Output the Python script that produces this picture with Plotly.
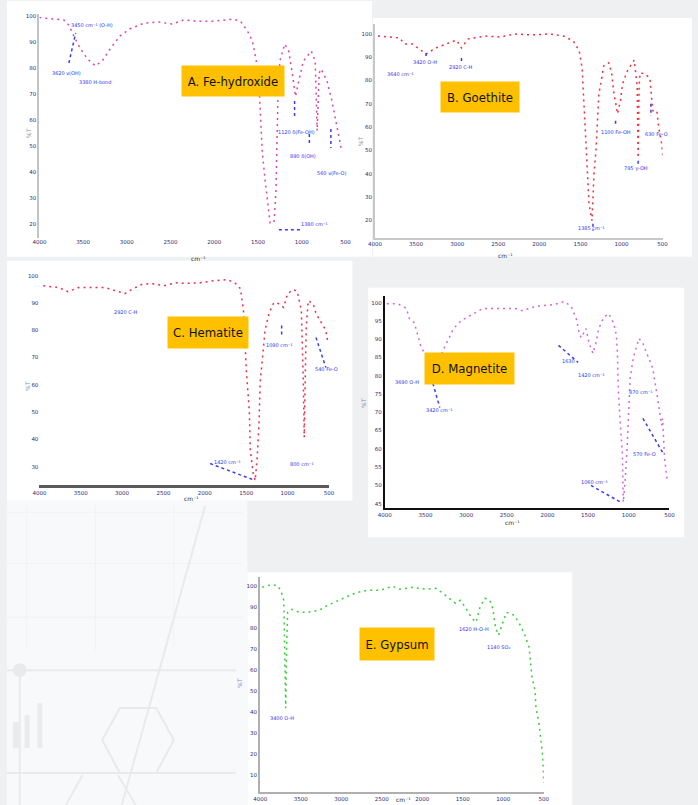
import plotly.graph_objects as go

W, H = 698, 805

# ---- FTIR spectra: wavenumber (cm-1) and transmittance (%T) ----
fe_wn = [4000, 3966, 3809, 3720, 3663, 3607, 3529, 3450, 3360, 3282, 3192, 3080, 2968, 2800,
         2631, 2485, 2350, 2182, 2014, 1790, 1700, 1621, 1565, 1498, 1475, 1453, 1419, 1386,
         1363, 1318, 1296, 1274, 1251, 1195, 1150, 1105, 1072, 1038, 982, 892, 847, 825, 802,
         780, 712, 656, 600, 544]
fe_t = [99.5, 99.2, 98.8, 98.5, 96.5, 92.3, 87.3, 83.5, 80.8, 82.7, 87.3, 92.3, 95.0, 97.3,
        97.7, 96.9, 98.5, 98.0, 98.0, 98.8, 98.0, 94.2, 90.4, 78.8, 63.5, 48.0, 36.5, 27.0,
        20.4, 20.4, 32.7, 67.3, 82.7, 89.2, 86.5, 77.0, 69.0, 74.6, 82.7, 86.5, 82.7, 55.8, 78.0,
        79.6, 75.0, 67.3, 57.7, 48.0]

goe_wn = [3964, 3701, 3641, 3546, 3379, 3259, 3104, 3008, 2948, 2865, 2662, 2470, 2303, 2112,
          1873, 1706, 1586, 1514, 1479, 1455, 1431, 1407, 1395, 1359, 1335, 1311, 1287, 1275,
          1240, 1216, 1156, 1120, 1096, 1048, 1012, 988, 929, 845, 809, 797, 785, 773, 714,
          654, 630, 618, 570, 546, 510, 498]
goe_t = [99.1, 98.3, 95.7, 95.7, 91.4, 94.0, 96.1, 97.4, 94.0, 97.9, 99.1, 98.7, 100.0, 99.6,
         100.0, 99.1, 97.0, 92.7, 85.4, 67.0, 49.8, 35.6, 27.0, 19.8, 39.9, 49.8, 64.0, 74.3,
         81.1, 86.3, 87.6, 83.3, 75.5, 65.7, 71.3, 78.5, 84.1, 88.8, 77.7, 46.8, 77.7, 83.3, 82.8,
         81.1, 71.3, 67.0, 67.0, 59.7, 52.8, 47.7]

hem_wn = [3953, 3834, 3763, 3656, 3526, 3205, 2968, 2885, 2767, 2648, 2494, 2340, 2233, 2055,
          1865, 1723, 1628, 1569, 1533, 1521, 1498, 1462, 1450, 1415, 1391, 1367, 1343, 1332,
          1308, 1272, 1225, 1165, 1106, 1047, 999, 928, 881, 833, 810, 798, 786, 774, 750, 691,
          656, 596, 537, 513]
hem_t = [96.3, 96.0, 95.6, 94.1, 95.6, 95.6, 93.4, 94.9, 96.7, 97.1, 96.3, 97.4, 97.1, 97.4,
         98.2, 98.5, 97.1, 95.2, 87.2, 79.9, 65.2, 50.5, 35.9, 27.5, 24.9, 33.3, 46.9, 60.4,
         68.9, 79.9, 86.1, 90.1, 89.7, 88.3, 93.4, 94.9, 94.1, 87.2, 62.6, 40.7, 62.6, 81.0, 90.8,
         89.7, 86.1, 82.8, 79.9, 75.5]

mag_wn = [3976, 3843, 3734, 3698, 3638, 3602, 3553, 3457, 3421, 3372, 3312, 3240, 3155, 3059,
          2950, 2793, 2636, 2395, 2310, 2226, 2153, 2033, 1912, 1791, 1707, 1646, 1610, 1586,
          1526, 1490, 1441, 1405, 1369, 1308, 1248, 1188, 1152, 1140, 1127, 1103, 1079, 1067,
          1043, 1019, 983, 946, 898, 874, 826, 765, 705, 645, 596, 584, 560, 524]
mag_t = [99.7, 99.7, 98.4, 95.6, 94.5, 91.8, 87.7, 84.2, 80.6, 82.8, 85.5, 89.1, 92.9, 95.1,
         96.4, 98.4, 98.4, 98.4, 97.8, 98.4, 98.9, 99.2, 99.5, 100.3, 98.9, 95.6, 91.8, 90.4,
         92.9, 89.1, 86.1, 88.8, 92.9, 95.9, 97.0, 94.5, 91.0, 86.3, 75.4, 66.4, 59.0, 45.4,
         51.9, 60.9, 79.2, 84.7, 88.8, 90.2, 88.8, 85.5, 82.0, 73.8, 66.4, 68.3, 57.4, 50.8]

gyp_wn = [3976, 3891, 3794, 3746, 3709, 3697, 3685, 3673, 3661, 3612, 3516, 3407, 3273, 3164,
          3043, 2922, 2801, 2680, 2523, 2365, 2280, 2123, 1953, 1832, 1760, 1675, 1590, 1530,
          1469, 1396, 1336, 1287, 1227, 1166, 1130, 1094, 1057, 1009, 960, 864, 803, 742, 682,
          646, 609, 597, 561, 536, 512, 500]
gyp_t = [99.5, 100.5, 100.5, 98.1, 93.3, 74.3, 41.9, 74.3, 87.6, 89.0, 87.6, 87.6, 88.6, 91.0,
         93.3, 95.2, 97.1, 98.1, 98.1, 100.0, 98.6, 99.5, 98.6, 99.0, 97.1, 94.3, 91.9, 93.3,
         90.0, 85.2, 82.9, 90.0, 94.3, 93.3, 89.5, 80.0, 76.7, 82.4, 87.6, 86.2, 82.4, 77.6, 71.0,
         56.7, 50.5, 42.4, 34.8, 26.7, 18.6, 6.2]

x_ticks = [4000, 3500, 3000, 2500, 2000, 1500, 1000, 500]

# peak labels: (text, wavenumber, %T)
fe_labels = [("3450 cm⁻¹ (O-H)", 3394, 96.5), ("3620 ν(OH)", 3686, 78.1),
             ("3380 H-bond", 3360, 74.6), ("1120 δ(Fe-OH)", 1060, 55.4),
             ("890 δ(OH)", 982, 46.2), ("560 ν(Fe-O)", 656, 39.6), ("1380 cm⁻¹", 858, 20.0)]
goe_labels = [("3640 cm⁻¹", 3689, 82.8), ("3420 O-H", 3391, 88.0), ("2920 C-H", 2948, 85.8),
              ("1385 cm⁻¹", 1371, 16.8), ("1100 Fe-OH", 1072, 58.0), ("795 γ-OH", 821, 42.1),
              ("630 Fe-O", 570, 57.1)]
hem_labels = [("2920 C-H", 2956, 86.8), ("1090 cm⁻¹", 1094, 74.7), ("540 Fe-O", 525, 65.9),
              ("1420 cm⁻¹", 1723, 31.5), ("800 cm⁻¹", 833, 30.8)]
mag_labels = [("3690 O-H", 3722, 78.4), ("3420 cm⁻¹", 3324, 70.5), ("1630", 1743, 83.9),
              ("1420 cm⁻¹", 1453, 80.3), ("870 cm⁻¹", 850, 75.4), ("570 Fe-O", 802, 58.7),
              ("1060 cm⁻¹", 1417, 50.8)]
gyp_labels = [("1620 H-O-H", 1360, 79.5), ("1140 SO₄", 1057, 71.0), ("3400 O-H", 3734, 37.1)]

# leader lines between labels and bands: (wn0, t0, wn1, t1)
fe_leads = [(3663, 81.9, 3585, 93.5), (1083, 67.3, 1083, 60.8), (668, 56.5, 668, 49.2),
            (914, 54.6, 914, 50.8), (1262, 17.7, 1004, 17.7)]
goe_leads = [(3379, 91.8, 3379, 89.3), (2948, 89.7, 2948, 87.6), (1072, 62.7, 1072, 60.5),
             (797, 45.5, 797, 43.4), (642, 70.0, 642, 64.8), (1347, 18.5, 1347, 15.5)]
hem_leads = [(1936, 31.1, 1391, 24.9), (656, 77.3, 537, 66.3), (1071, 81.7, 1071, 78.0)]
mag_leads = [(3409, 77.9, 3324, 71.3), (1864, 88.3, 1622, 83.6), (1465, 50.0, 1103, 45.4),
             (826, 68.3, 584, 59.0)]
gyp_leads = []

panels = [
    dict(name="A. Fe-hydroxide", wn=fe_wn, t=fe_t, color="#e0489c", box=(33, 345, 13, 237),
         yr=(14.6, 100.8), yt=list(range(20, 101, 10)), labels=fe_labels, leads=fe_leads,
         xline=False, yline=True, axcol="#c4c4c4", tag=(177, 64, 102, 30),
         xt=(185, 252), ytl=(17, 125)),
    dict(name="B. Goethite", wn=goe_wn, t=goe_t, color="#f0303c", box=(375, 668, 23, 237),
         yr=(12.5, 104.3), yt=list(range(20, 101, 10)), labels=goe_labels, leads=goe_leads,
         xline=True, yline=True, axcol="#c8c8c8", tag=(523, 80, 78, 30),
         xt=(518, 249), ytl=(361, 133)),
    dict(name="C. Hematite", wn=hem_wn, t=hem_t, color="#e8304c", box=(33, 328, 270, 485),
         yr=(23.1, 101.8), yt=list(range(30, 101, 10)), labels=hem_labels, leads=hem_leads,
         xline=True, yline=False, axcol="#5a5a5a", tag=(163, 332, 80, 31),
         xt=(178, 498), ytl=(15, 385)),
    dict(name="D. Magnetite", wn=mag_wn, t=mag_t, color="#d068dc", box=(385, 675, 295, 508),
         yr=(43.7, 101.9), yt=list(range(45, 101, 5)), labels=mag_labels, leads=mag_leads,
         xline=True, yline=True, axcol="#111111", tag=(518, 368, 89, 31),
         xt=(525, 522), ytl=(363, 402)),
    dict(name="E. Gypsum", wn=gyp_wn, t=gyp_t, color="#3ccc3c", box=(258, 547, 577, 792),
         yr=(1.9, 104.3), yt=list(range(0, 101, 10)), labels=gyp_labels, leads=gyp_leads,
         xline=True, yline=True, axcol="#b0b0b0", tag=(397, 661, 74, 32),
         xt=(404, 805), ytl=(237, 690)),
]


def fx(px):
    return px / W


def fy(py):
    return 1 - py / H


fig = go.Figure()
shapes = []
annotations = []

# ---- page background: panels and faint decorative graphics ----
deco = "#e9eaec"
shapes += [
    dict(type="rect", xref="paper", yref="paper", x0=fx(0), x1=fx(245), y0=fy(805), y1=fy(500),
         fillcolor="#f8f9fa", line_width=0, layer="below"),
]
for y in (512, 563, 617):
    shapes.append(dict(type="line", xref="paper", yref="paper", x0=fx(0), x1=fx(240),
                       y0=fy(y), y1=fy(y), line=dict(color="#f1f2f3", width=1), layer="below"))
for x in (20, 90, 170):
    shapes.append(dict(type="line", xref="paper", yref="paper", x0=fx(x), x1=fx(x),
                       y0=fy(505), y1=fy(650), line=dict(color="#f1f2f3", width=1), layer="below"))
for (x0, y0, x1, y1) in [(0, 670, 233, 670), (0, 773, 233, 773), (13, 670, 13, 805),
                         (202, 505, 117, 805), (77, 775, 60, 805), (113, 775, 131, 805)]:
    shapes.append(dict(type="line", xref="paper", yref="paper", x0=fx(x0), x1=fx(x1),
                       y0=fy(y0), y1=fy(y1), line=dict(color=deco, width=2), layer="below"))
hexpts = [(97, 740), (115, 708), (152, 708), (170, 740), (152, 773), (115, 773)]
path = "M " + " L ".join(f"{fx(a):.5f},{fy(b):.5f}" for a, b in hexpts) + " Z"
shapes.append(dict(type="path", xref="paper", yref="paper", path=path,
                   line=dict(color=deco, width=2), layer="below"))
shapes.append(dict(type="circle", xref="paper", yref="paper", x0=fx(6), x1=fx(20),
                   y0=fy(677), y1=fy(663), fillcolor=deco, line_width=0, layer="below"))
for (x0, x1, y0) in [(6, 12, 722), (18, 23, 715), (31, 36, 703)]:
    shapes.append(dict(type="rect", xref="paper", yref="paper", x0=fx(x0), x1=fx(x1),
                       y0=fy(748), y1=fy(y0), fillcolor="#eaebed", line_width=0, layer="below"))

for (x0, x1, y0, y1) in [(0, 372, 0, 256), (373, 698, 17, 256), (0, 352, 260, 500),
                         (368, 690, 287, 537), (245, 576, 572, 805)]:
    shapes.append(dict(type="rect", xref="paper", yref="paper", x0=fx(x0), x1=fx(x1),
                       y0=fy(y1), y1=fy(y0), fillcolor="white", line_width=0, layer="below"))

tickfont = dict(size=5.5, color="#2c2c70", family="DejaVu Sans")
layout_axes = {}

for i, p in enumerate(panels, start=1):
    sfx = "" if i == 1 else str(i)
    xa, ya = "x" + sfx, "y" + sfx
    fig.add_trace(go.Scatter(
        x=p["wn"], y=p["t"], mode="lines", xaxis=xa, yaxis=ya, showlegend=False,
        hoverinfo="skip", line=dict(color=p["color"], width=1.5, dash="2px,4px")))
    x0, x1, y0, y1 = p["box"]
    layout_axes["xaxis" + sfx] = dict(
        domain=[fx(x0), fx(x1)], range=[4000, 500], anchor=ya, tickvals=x_ticks,
        showgrid=False, zeroline=False, showline=p["xline"], linecolor=p["axcol"],
        linewidth=2 if i != 3 else 3, ticks="", tickfont=tickfont, fixedrange=True)
    layout_axes["yaxis" + sfx] = dict(
        domain=[fy(y1), fy(y0)], range=list(p["yr"]), anchor=xa, tickvals=p["yt"],
        showgrid=False, zeroline=False, showline=p["yline"], linecolor=p["axcol"],
        linewidth=2, ticks="", tickfont=tickfont, fixedrange=True)

    for (txt, wn, t) in p["labels"]:
        annotations.append(dict(xref=xa, yref=ya, x=wn, y=t, text=txt, showarrow=False,
                                font=dict(size=5, color="#3434f0", family="DejaVu Sans")))
    for (a0, b0, a1, b1) in p["leads"]:
        shapes.append(dict(type="line", xref=xa, yref=ya, x0=a0, y0=b0, x1=a1, y1=b1,
                           line=dict(color="#3b3bf5", width=1.5, dash="dot")))

    cx, cy, bw, bh = p["tag"]
    annotations.append(dict(xref="paper", yref="paper", x=fx(cx), y=fy(cy), text=p["name"],
                            showarrow=False, width=bw, height=bh, bgcolor="#ffc000",
                            borderpad=0, valign="middle",
                            font=dict(size=13, color="#111111",
                                      family="Liberation Sans Narrow, DejaVu Sans Condensed, sans-serif")))
    tx, ty = p["xt"]
    annotations.append(dict(xref="paper", yref="paper", x=fx(tx), y=fy(ty), text="cm⁻¹",
                            showarrow=False, font=dict(size=6, color="#303040", family="DejaVu Sans")))
    lx, ly = p["ytl"]
    annotations.append(dict(xref="paper", yref="paper", x=fx(lx), y=fy(ly), text="%T",
                            showarrow=False, textangle=-90,
                            font=dict(size=6, color="#8890a8", family="DejaVu Sans")))

fig.update_layout(
    width=W, height=H, margin=dict(l=0, r=0, t=0, b=0),
    paper_bgcolor="#eff0f2", plot_bgcolor="rgba(0,0,0,0)",
    shapes=shapes, annotations=annotations, **layout_axes)

fig.write_html("out.html", config={"displayModeBar": False})
